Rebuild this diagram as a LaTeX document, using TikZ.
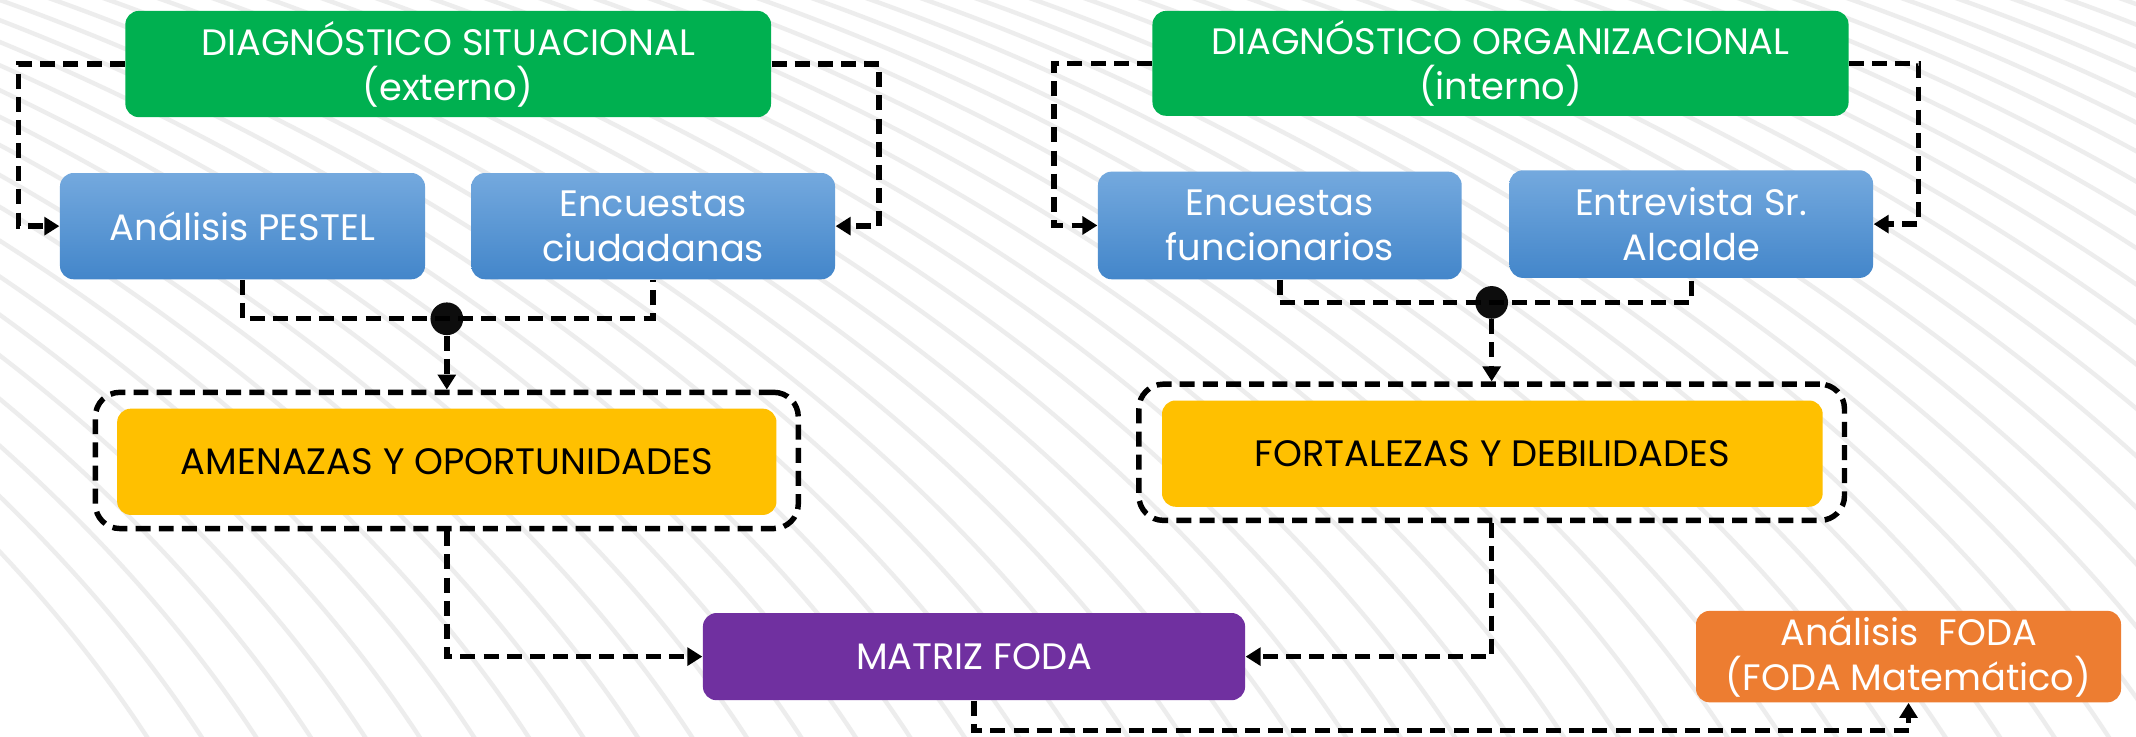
\documentclass[tikz,border=0pt]{standalone}
\usepackage{fontspec}
\setmainfont{Poppins}
\usetikzlibrary{arrows.meta,calc}
\definecolor{cgreen}{HTML}{00B050}
\definecolor{cyellow}{HTML}{FFC000}
\definecolor{cpurple}{HTML}{7030A0}
\definecolor{corange}{HTML}{ED7D31}
\definecolor{cbluetop}{HTML}{74A9DE}
\definecolor{cbluebot}{HTML}{4386CA}
\definecolor{cstripe}{HTML}{EDEDED}
\tikzset{
  box/.style={rounded corners=5pt, align=center, inner sep=2pt,
    font=\fontsize{13.5}{16.5}\selectfont},
  greenbox/.style={box, fill=cgreen, text=white},
  bluebox/.style={box, top color=cbluetop, bottom color=cbluebot, text=white},
  yellowbox/.style={box, fill=cyellow, text=black},
  purplebox/.style={box, fill=cpurple, text=white},
  orangebox/.style={box, fill=corange, text=white},
  frame/.style={draw=black, line width=2pt, dash pattern=on 5.5pt off 3pt, rounded corners=9pt},
  dl/.style={draw=black, line width=2pt, dash pattern=on 5.5pt off 3pt},
  tip/.style={-{Triangle[length=5.5pt,width=6.5pt]}},
  dot/.style={circle, fill=black!95, inner sep=0pt, minimum size=12pt}
}
\begin{document}
\begin{tikzpicture}[x=0.5pt,y=-0.5pt]
\useasboundingbox (0,0) rectangle (1568,541);
\fill[white] (0,0) rectangle (1568,541);
\begin{scope}
\clip (0,0) rectangle (1568,541);
\foreach \i in {0,...,60}{
  \draw[cstripe, line width=1.6pt] ({\i*40-700},-20) .. controls ({\i*40-380},80) and ({\i*40-40},300) .. ({\i*40+120},560);
}
\end{scope}
% nodes
\node[greenbox, minimum width=237pt, minimum height=39pt] (g1) at (329,47) {DIAGNÓSTICO SITUACIONAL\\(externo)};
\node[greenbox, minimum width=255.5pt, minimum height=38.5pt] (g2) at (1101.5,46.5) {DIAGNÓSTICO ORGANIZACIONAL\\(interno)};
\node[bluebox, minimum width=134pt, minimum height=39pt] (pestel) at (178,166) {Análisis PESTEL};
\node[bluebox, minimum width=133.5pt, minimum height=39pt] (ciud) at (479.5,166) {Encuestas\\ciudadanas};
\node[bluebox, minimum width=133.5pt, minimum height=39.5pt] (func) at (939.5,165.5) {Encuestas\\funcionarios};
\node[bluebox, minimum width=133.5pt, minimum height=39.5pt] (alc) at (1241.5,164.5) {Entrevista Sr.\\Alcalde};
\node[frame, minimum width=258pt, minimum height=50pt] (b1) at (328,338) {};
\node[yellowbox, minimum width=242pt, minimum height=39pt] (y1) at (328,339) {AMENAZAS Y OPORTUNIDADES};
\node[frame, minimum width=259pt, minimum height=50pt] (b2) at (1095,332) {};
\node[yellowbox, minimum width=242.5pt, minimum height=39pt] (y2) at (1095.5,333) {FORTALEZAS Y DEBILIDADES};
\node[purplebox, minimum width=199pt, minimum height=32pt] (mat) at (715,482) {MATRIZ FODA};
\node[orangebox, minimum width=156pt, minimum height=32pt] (foda) at (1401,482) {Análisis\ \ FODA\\(FODA Matemático)};
% connectors top
\draw[dl,tip] (g1.west) -- ++(-78,0) |- (pestel.west);
\draw[dl,tip] (g1.east) -- ++(79,0) |- (ciud.east);
\draw[dl,tip] (g2.west) -- ++(-72,0) |- (func.west);
\draw[dl,tip] (g2.east) -- ++(51,0) |- (alc.east);
% junctions
\node[dot] (j1) at (328,234) {};
\node[dot] (j2) at (1095,222) {};
\draw[dl] (pestel.south) |- (j1.center) -| (ciud.south);
\draw[dl] (func.south) |- (j2.center) -| (alc.south);
\draw[dl,tip] (j1.south) -- (b1.north);
\draw[dl,tip] (j2.south) -- (b2.north);
% to matrix
\draw[dl,tip] (b1.south) |- (mat.west);
\draw[dl,tip] (b2.south) |- (mat.east);
\draw[dl,tip] (mat.south) -- ++(0,22) -| (foda.south);
\end{tikzpicture}
\end{document}
